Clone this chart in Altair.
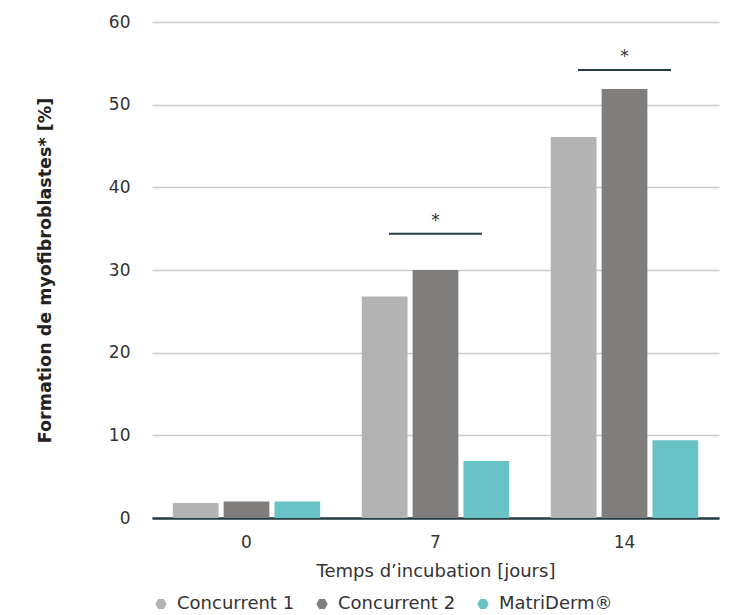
import altair as alt
import pandas as pd

days = ["0", "7", "14"]
series = ["Concurrent 1", "Concurrent 2", "MatriDerm®"]
conc1 = [1.8, 26.8, 46.1]
conc2 = [2.0, 30.0, 51.9]
matri = [2.0, 6.9, 9.4]
colors = ["#b3b3b3", "#7f7e7c", "#69c3c6"]

sig_days = ["7", "14"]
sig_levels = [34.4, 54.2]
sig_labels = ["*", "*"]

rows = []
for s, vals in zip(series, [conc1, conc2, matri]):
    for d, v in zip(days, vals):
        rows.append({"day": d, "series": s, "value": v})
df = pd.DataFrame(rows)
sig = pd.DataFrame({"day": sig_days, "value": sig_levels, "label": sig_labels})

FONT = "DejaVu Sans"
TXT = "#333333"
HEX = "M-1,0L-0.5,-0.866L0.5,-0.866L1,0L0.5,0.866L-0.5,0.866Z"

x = alt.X("day:N", sort=days, title="Temps d’incubation [jours]",
          scale=alt.Scale(paddingInner=0.22, paddingOuter=0.11),
          axis=alt.Axis(labelAngle=0, ticks=False, domainColor="#263c44", domainWidth=2.5,
                        labelPadding=16, titlePadding=12, labelFontSize=17, titleFontSize=18,
                        labelColor=TXT, titleColor=TXT, labelFont=FONT, titleFont=FONT,
                        titleFontWeight="normal"))
y = alt.Y("value:Q", title="Formation de myofibroblastes* [%]",
          scale=alt.Scale(domain=[0, 60]),
          axis=alt.Axis(values=[0, 10, 20, 30, 40, 50, 60], domain=False, ticks=False,
                        gridColor="#c8cacc", gridWidth=1.5, labelPadding=22,
                        labelFontSize=17, titleFontSize=17.5, labelColor=TXT, titleColor="#222222",
                        labelFont=FONT, titleFont=FONT, titleFontWeight="bold", titlePadding=54))

bars = alt.Chart(df).mark_bar().encode(
    x=x,
    xOffset=alt.XOffset("series:N", sort=series, scale=alt.Scale(paddingInner=0.1)),
    y=y,
    color=alt.Color("series:N", sort=series,
                    scale=alt.Scale(domain=series, range=colors),
                    legend=alt.Legend(title=None, orient="bottom", direction="horizontal",
                                      symbolType=HEX, symbolSize=130, labelFontSize=18,
                                      labelFont=FONT, labelColor=TXT, columnPadding=18,
                                      labelOffset=7, offset=15, symbolStrokeWidth=0,
                                      symbolOpacity=1)),
)

lines = alt.Chart(sig).mark_tick(size=93, thickness=2, color="#263c44", opacity=1,
                                 orient="horizontal").encode(
    x=alt.X("day:N", sort=days), y="value:Q")
stars = alt.Chart(sig).mark_text(dy=-13, fontSize=17, color=TXT, font=FONT).encode(
    x=alt.X("day:N", sort=days), y="value:Q", text="label:N")

chart = alt.layer(bars, lines, stars).properties(
    width=567, height=496, padding={"left": 28, "top": 5, "right": 5, "bottom": 5}
).configure_view(stroke=None)

chart.save("out.html", embed_options={"renderer": "svg", "actions": False})
